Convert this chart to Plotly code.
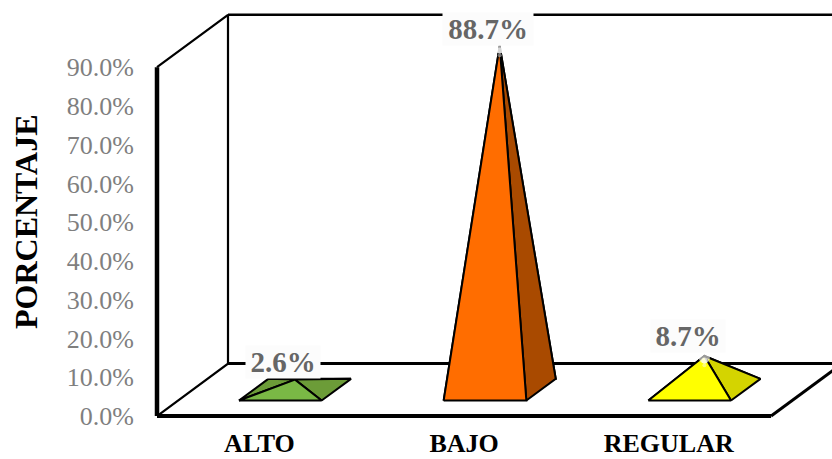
import plotly.graph_objects as go

categories = ["ALTO", "BAJO", "REGULAR"]
values = [2.6, 88.7, 8.7]
labels = ["2.6%", "88.7%", "8.7%"]
y_ticks = [0, 10, 20, 30, 40, 50, 60, 70, 80, 90]
y_tick_text = ["0.0%", "10.0%", "20.0%", "30.0%", "40.0%", "50.0%", "60.0%", "70.0%", "80.0%", "90.0%"]
front_colors = ["#7AB845", "#FF6D00", "#FFFF00"]
side_colors = ["#6C9C38", "#A94A00", "#D4D400"]
label_shift = [(-12, 18), (-12, 17), (-16, 20)]
label_width = [72, 88, 72]

PX_X, PX_Y = 204.7, 3.88          # pixels per x unit / per percent
DX, DY = 71 / PX_X, 52.5 / PX_Y   # full depth of the floor in axis units
HALF, T1, T2 = 0.202, 0.295, 0.709
YMAX = 90
XMIN, XEND = -0.5, 2.5


def proj(x, y, t):
    return x + DX * t, y + DY * t


def poly(points, fill):
    return go.Scatter(x=[p[0] for p in points] + [points[0][0]],
                      y=[p[1] for p in points] + [points[0][1]],
                      mode="lines", fill="toself", fillcolor=fill,
                      line=dict(color="black", width=2), hoverinfo="skip",
                      showlegend=False)


def line(points, width):
    return go.Scatter(x=[p[0] for p in points], y=[p[1] for p in points],
                      mode="lines", line=dict(color="black", width=width),
                      hoverinfo="skip", showlegend=False)


fig = go.Figure()

# Walls and floor
fig.add_trace(line([proj(XMIN, 0, 0), proj(XMIN, 0, 1), proj(XMIN, YMAX, 1), proj(XMIN, YMAX, 0)], 2.2))
fig.add_trace(line([proj(XMIN, YMAX, 1), proj(XEND + 0.4, YMAX, 1)], 2.5))
fig.add_trace(line([proj(XMIN, 0, 1), proj(XEND + 0.4, 0, 1)], 3))
fig.add_trace(line([proj(XEND, 0, 0), proj(XEND, 0, 1)], 3))
fig.add_trace(line([proj(XMIN, 0, 0), proj(XEND, 0, 0)], 4))
fig.add_trace(line([proj(XMIN, 0, 0), proj(XMIN, YMAX, 0)], 4.5))

# Pyramids
for i, v in enumerate(values):
    fl = proj(i - HALF, 0, T1)
    fr = proj(i + HALF, 0, T1)
    br = proj(i + HALF, 0, T2)
    bl = proj(i - HALF, 0, T2)
    apex = proj(i, v, (T1 + T2) / 2)
    fig.add_trace(poly([bl, br, apex], side_colors[i]))
    fig.add_trace(poly([fl, bl, apex], side_colors[i]))
    fig.add_trace(poly([fr, br, apex], side_colors[i]))
    fig.add_trace(poly([fl, fr, apex], front_colors[i]))
    if v > 5:
        for drop, size, alpha in ((0.5, 11, 0.6), (1.2, 6, 0.6), (2.4, 4, 0.45)):
            fig.add_trace(go.Scatter(x=[apex[0]], y=[apex[1] - drop], mode="markers",
                                     marker=dict(size=size, color=f"rgba(255,255,255,{alpha})"),
                                     hoverinfo="skip", showlegend=False))
    fig.add_annotation(x=apex[0], y=apex[1], xref="x", yref="y", text=f"<b>{labels[i]}</b>",
                       showarrow=False, xshift=label_shift[i][0], yshift=label_shift[i][1],
                       bgcolor="#FCFCFC", borderpad=1, height=30, width=label_width[i],
                       font=dict(family="Liberation Serif", size=29, color="#666666"))

fig.add_annotation(xref="paper", yref="paper", x=-150 / 682, y=(459 - 36 - 222) / 423,
                   xanchor="center", yanchor="middle", xshift=26, text="<b>PORCENTAJE</b>",
                   textangle=-90, showarrow=False,
                   font=dict(family="Liberation Serif", size=32, color="black"))

fig.update_layout(
    width=832, height=459,
    margin=dict(l=150, r=0, t=0, b=36),
    paper_bgcolor="white", plot_bgcolor="white", showlegend=False,
    xaxis=dict(range=[XMIN - 7 / PX_X, XMIN + (832 - 157) / PX_X], tickvals=[0, 1, 2], ticktext=categories,
               showgrid=False, zeroline=False, showline=False, ticks="", ticklabelstandoff=2, automargin=False,
               tickfont=dict(family="Liberation Serif", size=26, color="black", weight="bold")),
    yaxis=dict(range=[-7 / PX_Y, (416.5) / PX_Y], tickvals=y_ticks, ticktext=y_tick_text,
               showgrid=False, zeroline=False, showline=False, ticks="", ticklabelstandoff=15, automargin=False,
               tickfont=dict(family="Liberation Serif", size=26, color="#7F7F7F")),
)
fig.write_html("out.html", config={"displayModeBar": False},
               post_script="document.body.style.margin='0';")
